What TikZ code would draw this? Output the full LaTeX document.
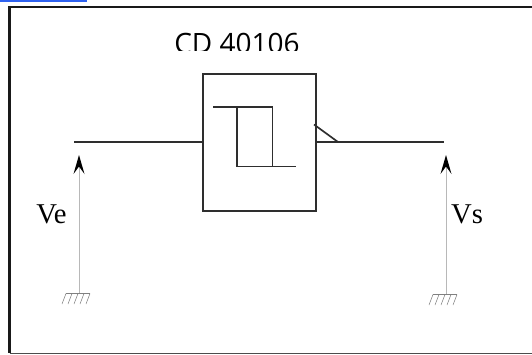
\documentclass[tikz,border=0pt]{standalone}
\usepackage{fontspec}
\setmainfont{Liberation Serif}
\newfontfamily\titlefont{Open Sans}
\definecolor{wirec}{gray}{0.18}
\definecolor{probec}{gray}{0.72}
\definecolor{hatchc}{gray}{0.5}
\definecolor{barblue}{HTML}{2F62F0}
\tikzset{
  px/.style={x=0.75pt,y=-0.75pt},
  frameline/.style={draw=black!90,line width=1.6pt,line cap=butt},
  wire/.style={draw=wirec,line width=1.25pt},
  probe/.style={draw=probec,line width=0.75pt},
  hatch/.style={draw=hatchc,line width=0.4pt},
  tiplabel/.style={font=\fontsize{21.5}{21.5}\selectfont,inner sep=0pt,anchor=base},
  arrowtip/.style={fill=black,draw=none}
}
\begin{document}
\begin{tikzpicture}[px]
\useasboundingbox (0,0) rectangle (532,354);
\fill[white] (0,0) rectangle (532,354);
\fill[barblue] (0,0) rectangle (87,2);
% frame
\draw[frameline] (532,7) -- (9.5,7) -- (9.5,353);
\draw[draw=black!70,line width=1pt] (9.5,353.3) -- (532,353.3);
% title, cut off at its foot as in the reference
\begin{scope}
\clip (150,20) rectangle (330,50);
\node[font=\titlefont\fontsize{21}{21}\selectfont,inner sep=0pt,anchor=base] (title) at (237,53) {CD 40106};
\end{scope}
% block
\node[draw=wirec,line width=1.25pt,minimum width=84.75pt,minimum height=102.75pt,inner sep=0pt,outer sep=0pt] (block) at (259.5,142.5) {};
% hysteresis symbol
\draw[wire] (213,107) -- (272.5,107) -- (272.5,166.5);
\draw[wire] (237,107) -- (237,166.5) -- (296,166.5);
% output stub
\coordinate (kneeT) at (314,124.5);
\coordinate (kneeB) at (338,142);
\draw[wire] (kneeT) -- (kneeB);
% wires
\coordinate (inEnd) at (74,142);
\coordinate (outEnd) at (444,142);
\draw[wire] (inEnd) -- (block.west |- inEnd);
\draw[wire] (block.east |- outEnd) -- (outEnd);
% probes
\foreach \n/\x/\y in {a/79/293,b/446/294}{
  \coordinate (top\n) at (\x,158);
  \coordinate (gnd\n) at (\x,\y);
  \draw[probe] (top\n) -- (gnd\n);
  \fill[arrowtip] (\x,155) -- (\x+5.5,174) -- (\x,166.5) -- (\x-5.5,174) -- cycle;
  \draw[hatch] (\x-13,\y+.5) -- (\x+11,\y+.5);
  \foreach \d in {-13,-7,-1,5,11}
    \draw[hatch] (\x+\d,\y+.5) -- (\x+\d-4,\y+11);
}
\node[tiplabel] (ve) at (51.5,223) {Ve};
\node[tiplabel] (vs) at (467,223) {Vs};
\end{tikzpicture}
\end{document}
